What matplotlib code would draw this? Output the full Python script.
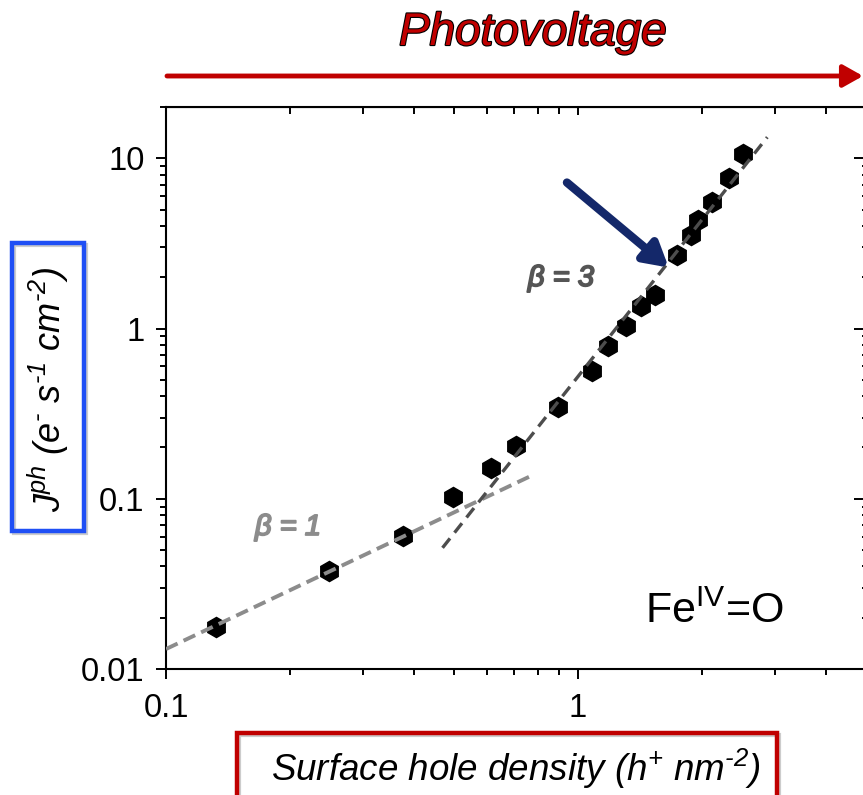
import matplotlib
matplotlib.use('Agg')
import matplotlib.pyplot as plt
import matplotlib.ticker as ticker
import matplotlib.patheffects as pe
from matplotlib.patches import Rectangle, FancyArrowPatch
import numpy as np

plt.rcParams['font.family'] = ['Liberation Sans', 'DejaVu Sans']
plt.rcParams['mathtext.fontset'] = 'custom'
plt.rcParams['mathtext.rm'] = 'Liberation Sans'
plt.rcParams['mathtext.it'] = 'Liberation Sans:italic'

# surface hole density (h+ nm-2) and photocurrent (e- s-1 cm-2)
hole_density = [0.132, 0.248, 0.375, 0.498, 0.616, 0.708, 0.895, 1.08, 1.18,
                1.31, 1.42, 1.54, 1.74, 1.88, 1.96, 2.11, 2.33, 2.51]
jph = [0.0177, 0.0377, 0.0606, 0.103, 0.152, 0.205, 0.348, 0.566, 0.784,
       1.04, 1.35, 1.58, 2.72, 3.52, 4.32, 5.51, 7.63, 10.6]

# guide lines (end points)
fit1_x = [0.1, 0.761]
fit1_y = [0.0131, 0.1346]
fit3_x = [0.469, 2.88]
fit3_y = [0.0515, 13.3]

W, H = 863, 795
fig = plt.figure(figsize=(W / 100, H / 100), dpi=100)

def fx(x):
    return x / W

def fy(y):
    return 1 - y / H

HY = '\u2010'  # plain hyphen for superscripts

ax = fig.add_axes([fx(166), fy(669), (866 - 166) / W, (669 - 107) / H])
ax.set_xscale('log')
ax.set_yscale('log')
ax.set_xlim(0.1, 5)
ax.set_ylim(0.01, 20)

ax.plot(hole_density, jph, linestyle='none', marker='h', markersize=14.5,
        color='black', zorder=2)
ax.plot(fit1_x, fit1_y, color='#8c8c8c', lw=2.8, linestyle=(0, (3.3, 1.7)),
        zorder=3)
ax.plot(fit3_x, fit3_y, color='#4d4d4d', lw=2.4, linestyle=(0, (3.6, 2.2)),
        zorder=3)

subs = np.arange(2, 10)
fmt = ticker.FuncFormatter(lambda v, _: f'{v:g}')
ax.xaxis.set_major_locator(ticker.LogLocator(base=10))
ax.yaxis.set_major_locator(ticker.LogLocator(base=10))
ax.xaxis.set_minor_locator(ticker.LogLocator(base=10, subs=subs, numticks=20))
ax.yaxis.set_minor_locator(ticker.LogLocator(base=10, subs=subs, numticks=20))
ax.xaxis.set_major_formatter(fmt)
ax.yaxis.set_major_formatter(fmt)
ax.xaxis.set_minor_formatter(ticker.NullFormatter())
ax.yaxis.set_minor_formatter(ticker.NullFormatter())

for s in ax.spines.values():
    s.set_linewidth(1.5)
ax.tick_params(which='both', labelsize=23.5, width=1.4, direction='out',
               top=False, right=False)
ax.tick_params(axis='x', pad=10)
ax.tick_params(axis='y', pad=8)
ax.tick_params(which='major', length=7.5)
ax.tick_params(which='minor', length=4)

top = ax.secondary_xaxis('top')
top.xaxis.set_minor_locator(ticker.LogLocator(base=10, subs=subs, numticks=20))
top.tick_params(which='both', direction='in', labeltop=False, width=1.4)
top.tick_params(which='major', length=6)
top.tick_params(which='minor', length=5)
top.xaxis.set_major_formatter(ticker.NullFormatter())
top.xaxis.set_minor_formatter(ticker.NullFormatter())
right = ax.secondary_yaxis('right')
right.yaxis.set_minor_locator(ticker.LogLocator(base=10, subs=subs, numticks=20))
right.tick_params(which='both', direction='in', labelright=False, width=1.4)
right.tick_params(which='major', length=9)
right.tick_params(which='minor', length=3)
right.yaxis.set_major_formatter(ticker.NullFormatter())
right.yaxis.set_minor_formatter(ticker.NullFormatter())

# annotations (italic + thin stroke of same colour to look bold)
fig.text(fx(288), fy(527), '\u03b2 = 1', color='#8c8c8c', fontsize=21,
         style='italic', ha='center', va='center',
         path_effects=[pe.withStroke(linewidth=1.3, foreground='#8c8c8c')])
fig.text(fx(561), fy(278), '\u03b2 = 3', color='#555555', fontsize=21,
         style='italic', ha='center', va='center',
         path_effects=[pe.withStroke(linewidth=1.3, foreground='#555555')])
fig.text(fx(714), fy(612), r'Fe$^{\mathregular{IV}}$=O', color='black',
         fontsize=31, ha='center', va='center')

ax.annotate('', xy=(1.66, 2.28), xytext=(0.94, 7.2),
            arrowprops=dict(arrowstyle='-|>,head_length=1.4,head_width=0.8',
                            lw=6, color='#14286a', shrinkA=0, shrinkB=0),
            zorder=4)

# photovoltage arrow and title
fig.text(fx(533), fy(33), 'Photovoltage', color='#c00000', fontsize=33,
         style='italic', ha='center', va='center',
         path_effects=[pe.withStroke(linewidth=1.6, foreground='black')])
fig.patches.append(FancyArrowPatch(
    (fx(167), fy(76)), (fx(863), fy(76)), transform=fig.transFigure,
    arrowstyle='-|>,head_length=8,head_width=4.5', lw=3.5, color='#c00000',
    mutation_scale=1.5, shrinkA=0, shrinkB=0))

# y label box
fig.patches.append(Rectangle((fx(14), fy(533)), 72 / W, 288 / H,
                             transform=fig.transFigure, fill=False,
                             ec='#cccccc', lw=3))
fig.patches.append(Rectangle((fx(12), fy(531)), 72 / W, 288 / H,
                             transform=fig.transFigure, fill=False,
                             ec='#1f4ff5', lw=3.2))
fig.text(fx(48), fy(389),
         r'J$^{\mathregular{ph}}$ (e$^{\mathregular{' + HY + r'}}$ s$^{\mathregular{' + HY
         + r'1}}$ cm$^{\mathregular{' + HY + r'2}}$)',
         rotation=90, fontsize=26, style='italic', ha='center', va='center')

# x label box
fig.patches.append(Rectangle((fx(239), fy(820)), 540 / W, 85 / H,
                             transform=fig.transFigure, fill=False,
                             ec='#cccccc', lw=3))
fig.patches.append(Rectangle((fx(237), fy(818)), 540 / W, 85 / H,
                             transform=fig.transFigure, fill=False,
                             ec='#c00000', lw=3.2))
fig.text(fx(516), fy(769),
         r'Surface hole density (h$^{\mathregular{+}}$ nm$^{\mathregular{' + HY + r'2}}$)',
         fontsize=26.5, style='italic', ha='center', va='center')

fig.savefig('out.png', dpi=100)
